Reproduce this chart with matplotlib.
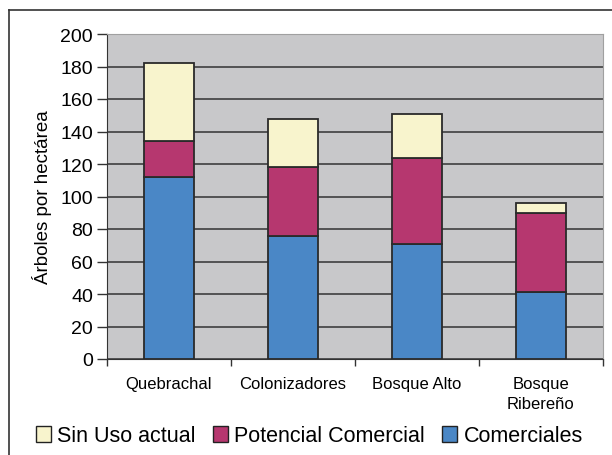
import numpy as np
import matplotlib.pyplot as plt
from matplotlib.lines import Line2D
from matplotlib.patches import Patch

plt.rcParams['font.family'] = ['Liberation Sans', 'DejaVu Sans']

# datos por tipo de bosque (árboles por hectárea)
categorias = ['Quebrachal', 'Colonizadores', 'Bosque Alto', 'Bosque\nRibereño']
comerciales = [112, 76, 71, 41]
potencial = [22, 42, 53, 49]
sin_uso = [48, 30, 27, 6]

col_com = '#4a87c6'
col_pot = '#b6376f'
col_sin = '#f8f4cd'

fig = plt.figure(figsize=(6.12, 4.56), dpi=100)
ax = fig.add_axes([107 / 612, 1 - 360 / 456, 496 / 612, 325 / 456])
ax.set_facecolor('#c8c8ca')

x = np.arange(len(categorias))
ancho = 0.4
kw = dict(width=ancho, edgecolor='#2a2a2a', linewidth=1.3, zorder=3)
ax.bar(x, comerciales, color=col_com, **kw)
ax.bar(x, potencial, bottom=comerciales, color=col_pot, **kw)
base = np.array(comerciales) + np.array(potencial)
ax.bar(x, sin_uso, bottom=base, color=col_sin, **kw)

ax.set_xlim(-0.5, len(categorias) - 0.5)
ax.set_ylim(0, 200)
ax.set_yticks(np.arange(0, 201, 20))
ax.yaxis.grid(True, color='#333333', linewidth=1.1, zorder=1)
ax.set_axisbelow(True)
ax.tick_params(axis='y', labelsize=14, length=7, width=1, color='#333333', pad=3)

# marcas del eje x entre categorías, etiquetas centradas
ax.set_xticks(np.arange(-0.5, len(categorias), 1))
ax.set_xticklabels([])
ax.set_xticks(x, minor=True)
ax.set_xticklabels(categorias, minor=True, fontsize=12, linespacing=1.45)
ax.tick_params(axis='x', which='major', length=5, width=1, color='#333333')
ax.tick_params(axis='x', which='minor', length=0, pad=12)

for s in ['top', 'right']:
    ax.spines[s].set_color('#a0a0a0')
for s in ['left', 'bottom']:
    ax.spines[s].set_color('#333333')

ax.set_ylabel('Árboles por hectárea', fontsize=13.5, labelpad=6)

# marco exterior del gráfico
fig.add_artist(Line2D([9 / 612, 9 / 612], [0, 1 - 11 / 456], color='#333333',
                      linewidth=1.2, transform=fig.transFigure))
fig.add_artist(Line2D([9 / 612, 1], [1 - 11 / 456, 1 - 11 / 456], color='#333333',
                      linewidth=1.2, transform=fig.transFigure))

handles = [Patch(facecolor=col_sin, edgecolor='#222222'),
           Patch(facecolor=col_pot, edgecolor='#222222'),
           Patch(facecolor=col_com, edgecolor='#222222')]
fig.legend(handles, ['Sin Uso actual', 'Potencial Comercial', 'Comerciales'],
           loc='center left', bbox_to_anchor=(27 / 612, 1 - 437 / 456), ncol=3,
           frameon=False, fontsize=15.5, handlelength=0.7, handleheight=0.7,
           handletextpad=0.3, columnspacing=0.8, borderaxespad=0)

fig.savefig('out.png', dpi=100)
